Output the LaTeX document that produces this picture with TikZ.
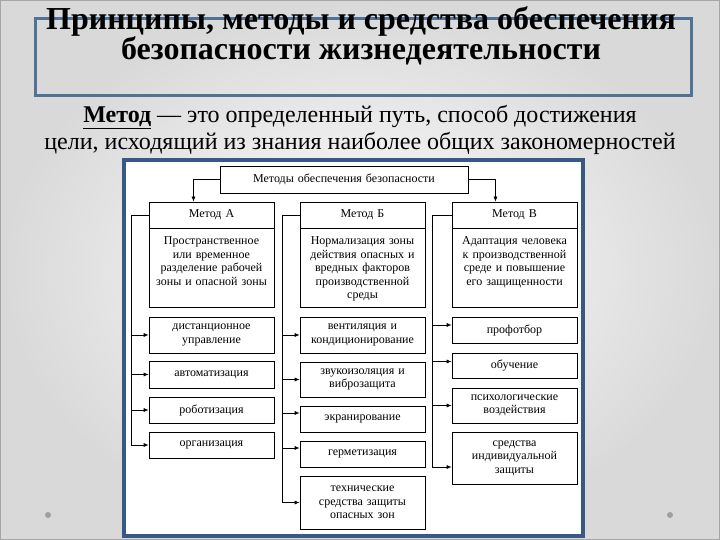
\documentclass[tikz,border=0pt]{standalone}
\usepackage{fontspec}
\setmainfont{Liberation Serif}
\usetikzlibrary{arrows.meta}

\definecolor{titleblue}{RGB}{79,114,150}
\definecolor{frameblue}{RGB}{56,88,136}

\tikzset{
	box/.style={draw=black, line width=0.7pt, fill=white, align=center, inner sep=0pt,
		minimum width=125pt, text width=121pt, font=\fontsize{12}{13.5}\selectfont},
	feed/.style={line width=0.7pt, -{Latex[length=5pt,width=4pt]}},
	subline/.style={anchor=base, inner sep=1pt, font=\fontsize{24}{24}\selectfont},
}
\newcommand{\toptext}[1]{\parbox[c][75pt][t]{121pt}{\centering\vspace*{7pt}#1}}

\begin{document}
\begin{tikzpicture}[x=1pt,y=-1pt]
	\useasboundingbox (0,0) rectangle (720,540);
	% slide
	\shade[inner color=white, outer color=black!15] (0,0) rectangle (720,540);
	\draw[gray!70, line width=2pt] (0,0) rectangle (720,540);
	\fill[gray!75] (48,515) circle (3); \fill[gray!75] (670,515) circle (3);

	% title
	\draw[titleblue, line width=3pt] (35,18.5) rectangle (691,96);
	\node[anchor=base, align=center, inner sep=1pt, font=\bfseries\fontsize{32}{27}\selectfont] (title) at (361,60)
		{Принципы, методы и средства обеспечения\\безопасности жизнедеятельности};
	\node[subline] (s1) at (360,123) {\underline{\textbf{Метод}} — это определенный путь, способ достижения};
	\node[subline] (s2) at (360,150) {цели, исходящий из знания наиболее общих закономерностей};

	% frame of the scheme
	\draw[frameblue, line width=4pt, fill=white] (124,160) rectangle (583,536);

	\node[box, minimum width=248pt, text width=244pt, minimum height=27pt] (top) at (344,179.5) {Методы обеспечения безопасности};

	% method A
	\node[box, minimum height=26pt] (hA) at (211.5,215) {Метод А};
	\node[box, minimum height=79pt] (dA) at (211.5,267.5) {\toptext{Пространственное\\или временное\\разделение рабочей\\зоны и опасной зоны}};
	\node[box, minimum height=36pt] (a1) at (211.5,335) {дистанционное\\управление};
	\node[box, minimum height=27pt] (a2) at (211.5,374.5) {автоматизация};
	\node[box, minimum height=26pt] (a3) at (211.5,410) {роботизация};
	\node[box, minimum height=26pt] (a4) at (211.5,445) {организация};

	% method B
	\node[box, minimum height=26pt] (hB) at (362.5,215) {Метод Б};
	\node[box, minimum height=79pt] (dB) at (362.5,267.5) {\toptext{Нормализация зоны\\действия опасных и\\вредных факторов\\производственной\\среды}};
	\node[box, minimum height=36pt] (b1) at (362.5,335) {вентиляция и\\кондиционирование};
	\node[box, minimum height=35pt] (b2) at (362.5,379.5) {звукоизоляция и\\виброзащита};
	\node[box, minimum height=26pt] (b3) at (362.5,419) {экранирование};
	\node[box, minimum height=26pt] (b4) at (362.5,454) {герметизация};
	\node[box, minimum height=53pt] (b5) at (362.5,502.5) {технические\\средства защиты\\опасных зон};

	% method V
	\node[box, minimum height=26pt] (hV) at (514.5,215) {Метод В};
	\node[box, minimum height=79pt] (dV) at (514.5,267.5) {\toptext{Адаптация человека\\к производственной\\среде и повышение\\его защищенности}};
	\node[box, minimum height=26pt] (v1) at (514.5,330) {профотбор};
	\node[box, minimum height=25pt] (v2) at (514.5,365.5) {обучение};
	\node[box, minimum height=35pt] (v3) at (514.5,405.5) {психологические\\воздействия};
	\node[box, minimum height=52pt] (v4) at (514.5,458) {средства\\индивидуальной\\защиты};

	% connectors
	\draw[feed] (top.west) -| ([xshift=-18pt]hA.north);
	\draw[feed] (top.east) -| ([xshift=-19pt]hV.north);
	\foreach \n in {a1,a2,a3,a4}
		\draw[feed] (hA.west) -- ++(-17,0) |- (\n.west);
	\foreach \n in {b1,b2,b5}
		\draw[feed] (hB.west) -- ++(-17,0) |- (\n.west);
	\draw[feed] (hB.west) -- ++(-17,0) |- ([yshift=6pt]b3.west);
	\draw[feed] (hB.west) -- ++(-17,0) |- ([yshift=6pt]b4.west);
	\draw[feed] (hV.west) -- ++(-19,0) |- ([yshift=5pt]v1.west);
	\draw[feed] (hV.west) -- ++(-19,0) |- ([yshift=4pt]v2.west);
	\draw[feed] (hV.west) -- ++(-19,0) |- (v3.west);
	\draw[feed] (hV.west) -- ++(-19,0) |- ([yshift=-9pt]v4.west);
\end{tikzpicture}
\end{document}
